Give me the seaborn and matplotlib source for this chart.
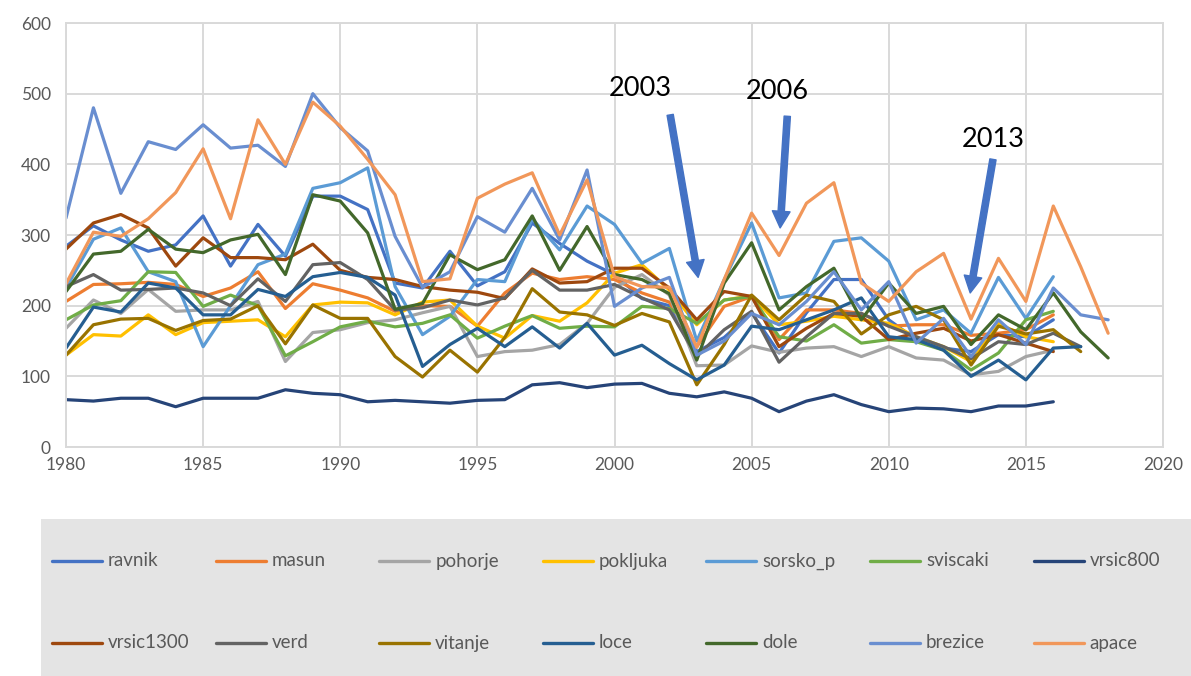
import numpy as np
import pandas as pd
import matplotlib
matplotlib.use("Agg")
import matplotlib.pyplot as plt
import seaborn as sns
from matplotlib.lines import Line2D
from matplotlib.patches import Rectangle

# Annual values per station, 1980 onwards (series end where measurements stop)
years = list(range(1980, 2019))

ravnik = [284, 313, 293, 277, 286, 327, 256, 315, 270, 355,
          355, 336, 232, 225, 277, 228, 248, 317, 288, 263,
          244, 210, 200, 135, 155, 190, 133, 190, 237, 237,
          180, 152, 140, 135, 159, 156, 180]
masun = [206, 230, 231, 233, 230, 213, 225, 248, 196, 231,
         222, 211, 192, 200, 199, 171, 218, 246, 237, 241,
         237, 218, 205, 142, 199, 213, 152, 194, 194, 189,
         171, 173, 173, 158, 161, 166, 187]
pohorje = [168, 208, 189, 223, 192, 194, 194, 206, 121, 162,
           166, 176, 180, 190, 199, 128, 135, 137, 145, 175,
           226, 244, 215, 115, 116, 143, 134, 140, 142, 128,
           142, 126, 123, 102, 107, 128, 137]
pokljuka = [130, 159, 157, 187, 159, 176, 178, 180, 156, 201,
            205, 204, 187, 205, 208, 171, 154, 186, 178, 204,
            246, 258, 222, 173, 208, 214, 173, 178, 185, 180,
            175, 156, 142, 121, 175, 156, 149]
sorsko_p = [225, 294, 310, 248, 234, 142, 200, 258, 273, 366,
            374, 395, 227, 159, 185, 237, 234, 323, 279, 341,
            315, 260, 281, 150, 237, 317, 211, 218, 291, 296,
            263, 180, 194, 161, 240, 182, 241]
sviscaki = [180, 201, 207, 248, 247, 199, 215, 200, 129, 149,
            170, 178, 170, 175, 187, 154, 171, 186, 168, 171,
            170, 199, 196, 175, 208, 213, 156, 150, 173, 147,
            152, 149, 137, 109, 133, 180, 192]
vrsic800 = [67, 65, 69, 69, 57, 69, 69, 69, 81, 76,
            74, 64, 66, 64, 62, 66, 67, 88, 91, 84,
            89, 90, 76, 71, 78, 69, 50, 65, 74, 60,
            50, 55, 54, 50, 58, 58, 64]
vrsic1300 = [280, 317, 329, 310, 256, 296, 268, 268, 265, 287,
             250, 240, 237, 227, 222, 219, 210, 252, 232, 234,
             253, 253, 225, 180, 220, 213, 142, 168, 189, 185,
             152, 161, 168, 150, 159, 147, 135]
verd = [227, 244, 222, 223, 225, 218, 200, 238, 206, 258,
        261, 237, 194, 197, 208, 201, 211, 250, 222, 222,
        230, 211, 194, 128, 166, 192, 120, 156, 189, 189,
        171, 156, 142, 125, 149, 145, 161, 142]
vitanje = [130, 173, 181, 182, 165, 179, 181, 200, 146, 201,
           182, 182, 128, 99, 137, 106, 155, 224, 191, 187,
           172, 189, 177, 88, 145, 215, 180, 215, 206, 160,
           187, 199, 180, 116, 171, 160, 166, 135]
loce = [140, 198, 191, 232, 225, 187, 187, 223, 213, 241,
        247, 240, 215, 114, 145, 168, 142, 170, 140, 175,
        130, 144, 118, 95, 116, 171, 166, 180, 194, 211,
        156, 152, 137, 100, 123, 95, 140, 142]
dole = [220, 273, 277, 308, 280, 275, 293, 301, 244, 357,
        348, 303, 195, 203, 272, 251, 265, 327, 250, 312,
        244, 237, 217, 123, 232, 289, 194, 227, 253, 180,
        232, 189, 199, 145, 187, 166, 218, 163, 126]
brezice = [324, 480, 359, 432, 421, 456, 423, 427, 397, 500,
           452, 419, 298, 226, 248, 326, 304, 366, 293, 392,
           199, 225, 240, 130, 150, 189, 173, 206, 248, 194,
           234, 147, 182, 128, 180, 145, 225, 187, 180]
apace = [231, 304, 298, 323, 360, 422, 323, 463, 400, 488,
         454, 407, 357, 234, 238, 352, 372, 388, 300, 378,
         241, 227, 226, 141, 237, 331, 271, 345, 374, 232,
         206, 248, 274, 181, 267, 206, 341, 255, 161]

stations = ["ravnik", "masun", "pohorje", "pokljuka", "sorsko_p", "sviscaki",
            "vrsic800", "vrsic1300", "verd", "vitanje", "loce", "dole",
            "brezice", "apace"]
series = [ravnik, masun, pohorje, pokljuka, sorsko_p, sviscaki, vrsic800,
          vrsic1300, verd, vitanje, loce, dole, brezice, apace]
colors = ["#4472C4", "#ED7D31", "#A5A5A5", "#FFC000", "#5B9BD5", "#70AD47",
          "#264478", "#9E480E", "#636363", "#997300", "#255E91", "#43682B",
          "#698ED0", "#F1975A"]

# Marked drought years with their label and arrow placement
event_labels = ["2003", "2006", "2013"]
event_text_xy = [(2000.93, 507), (2005.93, 503), (2013.8, 435)]
event_arrow_from = [(2002.03, 470), (2006.3, 468), (2013.8, 407)]
event_arrow_to = [(2003.05, 240), (2006.04, 310), (2012.97, 218)]

frames = []
for name, vals in zip(stations, series):
    v = list(vals) + [np.nan] * (len(years) - len(vals))
    frames.append(pd.DataFrame({"year": years, "value": v, "station": name}))
df = pd.concat(frames, ignore_index=True).dropna()

sns.set_theme(style="white")
plt.rcParams["font.family"] = ["Lato", "DejaVu Sans"]

W, H = 1191, 676
fig = plt.figure(figsize=(W / 100, H / 100), dpi=100)
fig.patch.set_facecolor("white")
ax = fig.add_axes([66 / W, 1 - 447 / H, (1163 - 66) / W, (447 - 23) / H])

palette = dict(zip(stations, colors))
sns.lineplot(data=df, x="year", y="value", hue="station", hue_order=stations,
             palette=palette, linewidth=2.3, legend=False, estimator=None,
             sort=True, ax=ax)

ax.set_xlim(1980, 2020)
ax.set_ylim(0, 600)
ax.set_xticks(range(1980, 2021, 5))
ax.set_yticks(range(0, 601, 100))
ax.set_xlabel("")
ax.set_ylabel("")
ax.set_axisbelow(True)
ax.grid(True, color="#D9D9D9", linewidth=1.4)
for sp in ax.spines.values():
    sp.set_color("#D9D9D9")
    sp.set_linewidth(1.4)
ax.tick_params(axis="both", length=0, colors="#595959", labelsize=12.5)
ax.tick_params(axis="y", pad=11)
ax.tick_params(axis="x", pad=7)

for lab, txy, a0, a1 in zip(event_labels, event_text_xy, event_arrow_from, event_arrow_to):
    ax.text(txy[0], txy[1], lab, ha="center", va="center", fontsize=19.5,
            color="black")
    ax.annotate("", xy=a1, xytext=a0,
                arrowprops=dict(arrowstyle="simple,head_length=0.8,head_width=0.85,tail_width=0.3",
                                mutation_scale=15, color="#4472C4",
                                shrinkA=0, shrinkB=0))

# Legend panel
fig.add_artist(Rectangle((41 / W, 0), (W - 41) / W, (H - 519) / H,
                         transform=fig.transFigure, facecolor="#E4E4E4",
                         edgecolor="none", zorder=0))
col_step = 163.6
for i, (name, c) in enumerate(zip(stations, colors)):
    row, col = divmod(i, 7)
    x0 = 52 + col * col_step
    yy = 1 - (561 if row == 0 else 643) / H
    fig.add_artist(Line2D([x0 / W, (x0 + 50) / W], [yy, yy],
                          transform=fig.transFigure, color=c, linewidth=2.4))
    fig.text((x0 + 56) / W, yy, name, ha="left", va="center", fontsize=13.5,
             color="#595959")

fig.savefig("out.png", dpi=100, facecolor="white")
